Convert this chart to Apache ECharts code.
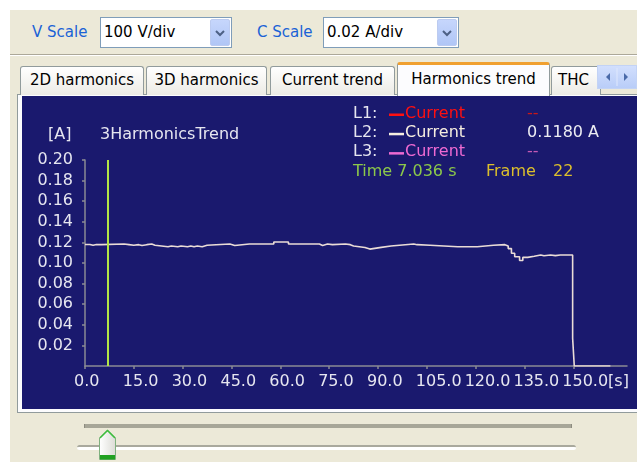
<!DOCTYPE html>
<html lang="en">
<head>
<meta charset="UTF-8">
<title>Harmonics trend</title>
<script src="https://cdn.jsdelivr.net/npm/echarts@6/dist/echarts.min.js"></script>
<style>
  body { margin: 0; width: 637px; height: 462px; background: #fff; overflow: hidden; position: relative; font-family: "DejaVu Sans", sans-serif; }
  .abs { position: absolute; }
  #panel { left: 10px; top: 10px; right: 0; bottom: 0; background: #ece9d8; }
  #sep { left: 10px; right: 0; top: 54px; height: 1px; background: #aca899; border-bottom: 1px solid #fff; }
  .lbl { color: #1a62d6; font-size: 15px; line-height: 18px; }
  .combo { height: 31px; border: 1px solid #7f9db9; background: #fff; box-sizing: border-box; font-size: 15px; line-height: 29px; padding-left: 3px; color: #000; }
  .combo .btn { position: absolute; right: 1px; top: 1px; bottom: 1px; width: 20px; border-radius: 2px; background: linear-gradient(#c6d6fc, #b0c6f6); border: 1px solid #bccbf0; box-sizing: border-box; }
  .tab { top: 66px; height: 29px; box-sizing: border-box; border: 1px solid #919b9c; border-bottom: none; border-radius: 3px 3px 0 0; background: linear-gradient(#ffffff, #ecebe5); font-size: 15px; line-height: 27px; text-align: center; color: #000; white-space: nowrap; overflow: hidden; }
  .tab.on { top: 62px; height: 34px; background: #fcfcfe; border-top: 3px solid #f0a030; line-height: 28px; z-index: 2; }
  #arrows { left: 597px; top: 65px; width: 40px; height: 24px; background: linear-gradient(#d2dffd, #b9cdf8); border: 1px solid #c3d3f5; box-sizing: border-box; }
  #frame { left: 17px; top: 94px; width: 640px; height: 319px; box-sizing: border-box; border: 1px solid #919b9c; background: #fcfcfe; }
  #main { left: 22px; top: 96px; width: 615px; height: 313px; }
  #range { left: 84px; top: 424px; width: 486px; height: 4px; background: #a7a698; border-left: 1px solid #8d8c80; border-right: 1px solid #8d8c80; }
  #track { left: 77px; top: 445px; width: 499px; height: 5px; box-sizing: border-box; background: #fff; border-top: 2px solid #a9a99d; border-radius: 3px; }
</style>
</head>
<body>
  <div id="panel" class="abs"></div>
  <div class="abs lbl" style="left:32px; top:23px;">V Scale</div>
  <div class="abs combo" style="left:100px; top:17px; width:132px;">100 V/div
    <div class="btn"><svg width="18" height="27" style="position:absolute;left:0;top:0"><polyline points="5,11 9,15 13,11" fill="none" stroke="#4d6185" stroke-width="2"/></svg></div>
  </div>
  <div class="abs lbl" style="left:257px; top:23px;">C Scale</div>
  <div class="abs combo" style="left:323px; top:17px; width:136px;">0.02 A/div
    <div class="btn"><svg width="18" height="27" style="position:absolute;left:0;top:0"><polyline points="5,11 9,15 13,11" fill="none" stroke="#4d6185" stroke-width="2"/></svg></div>
  </div>
  <div id="sep" class="abs"></div>

  <div id="frame" class="abs"></div>
  <div class="abs tab" style="left:20px; width:124px;">2D harmonics</div>
  <div class="abs tab" style="left:146px; width:121px;">3D harmonics</div>
  <div class="abs tab" style="left:270px; width:125px;">Current trend</div>
  <div class="abs tab on" style="left:397px; width:153px;">Harmonics trend</div>
  <div class="abs tab" style="left:551px; width:50px; text-align:left; padding-left:6px;">THC</div>
  <div id="arrows" class="abs">
    <svg width="38" height="22" style="position:absolute;left:0;top:0">
      <polygon points="8,11 12,7 12,15" fill="#4a6aa8"/>
      <polygon points="30,11 26,7 26,15" fill="#4a6aa8"/>
      <line x1="19" y1="2" x2="19" y2="20" stroke="#dfe8fd"/>
    </svg>
  </div>

  <div id="main" class="abs"></div>

  <div id="range" class="abs"></div>
  <div id="track" class="abs"></div>
  <svg class="abs" style="left:98px; top:429px;" width="19" height="32">
    <defs>
      <linearGradient id="thumbFill" x1="0" y1="0" x2="1" y2="0">
        <stop offset="0" stop-color="#ffffff"/>
        <stop offset="1" stop-color="#dcdcd6"/>
      </linearGradient>
    </defs>
    <path d="M1.5,9 L9.5,1 L17.5,9 L17.5,30.5 L1.5,30.5 Z" fill="url(#thumbFill)" stroke="#7fb07f" stroke-width="1"/>
    <polyline points="2,9 9.5,1.5 17,9" fill="none" stroke="#3cbf3c" stroke-width="1.5"/>
    <rect x="2" y="26" width="15" height="4.5" fill="#21a121"/>
  </svg>

<script>
  // L2 current trend (step values held until the next time)
  var times = [0, 1.5, 2.5, 3.5, 5, 12, 13.5, 15, 16.5, 17.5, 19, 20.5, 21.5, 25.5, 26.5,
    28.5, 29.5, 31.5, 32.5, 33.5, 34.5, 36, 37.5, 44.5, 46, 50.5, 51, 58, 62.5, 72,
    73, 74.5, 76, 80, 81.5, 82.5, 86, 87.5, 91, 94, 101, 102, 106, 114.5, 115,
    117.5, 118, 120.5, 125.5, 129, 130, 131, 132, 133.5, 134.5, 136, 138, 140, 141, 143,
    144.5, 146, 146.5, 149.8, 150.3, 161.4];
  var currentL2 = [0.118, 0.1172, 0.118, 0.1178, 0.1184, 0.1178, 0.1172, 0.1178, 0.117, 0.1178,
    0.1184, 0.1172, 0.1158, 0.1165, 0.1158, 0.1165, 0.1158, 0.1165, 0.1158, 0.1165,
    0.1158, 0.1172, 0.1184, 0.117, 0.1184, 0.1172, 0.1184, 0.1204, 0.1184, 0.117,
    0.1184, 0.1178, 0.1184, 0.1178, 0.1165, 0.115, 0.1135, 0.1152, 0.1165, 0.1184,
    0.1178, 0.1172, 0.1158, 0.1165, 0.1158, 0.1165, 0.1158, 0.1172, 0.1178, 0.1165,
    0.114, 0.1095, 0.106, 0.1025, 0.1055, 0.1065, 0.1078, 0.107, 0.1078, 0.1072,
    0.1078, 0.107, 0.1078, 0.027, 0, 0];

  var xTicks = [0, 15, 30, 45, 60, 75, 90, 105, 120, 135, 150];
  var yTicks = [0.02, 0.04, 0.06, 0.08, 0.10, 0.12, 0.14, 0.16, 0.18, 0.20];

  var cursorTime = 7.036;
  var frameNo = 22;
  var phases = ['L1:', 'L2:', 'L3:'];
  var phaseColors = ['#ff1010', '#f6eedf', '#ee6ad2'];
  var readingColors = ['#c81818', '#ececf2', '#c45ab4'];
  var phaseReadings = ['--', '0.1180 A', '--'];

  var textColor = '#e6e6f0';
  var font = '"DejaVu Sans", sans-serif';

  var myChart = echarts.init(document.getElementById('main'));

  var texts = [
    { type: 'text', left: 26, top: 31, style: { text: '[A]', fill: textColor, font: '16px ' + font } },
    { type: 'text', left: 78, top: 31, style: { text: '3HarmonicsTrend', fill: textColor, font: '16px ' + font } }
  ];
  for (var i = 0; i < phases.length; i++) {
    var yc = 18.5 + 19.3 * i;
    texts.push({ type: 'text', left: 331, top: yc - 9, style: { text: phases[i], fill: textColor, font: '16px ' + font } });
    texts.push({ type: 'rect', shape: { x: 367, y: yc - 1, width: 15, height: 2.5 }, style: { fill: phaseColors[i] } });
    texts.push({ type: 'text', left: 383, top: yc - 9, style: { text: 'Current', fill: phaseColors[i], font: '16px ' + font } });
    texts.push({ type: 'text', left: 505, top: yc - 9, style: { text: phaseReadings[i], fill: readingColors[i], font: '16px ' + font } });
  }
  texts.push({ type: 'text', left: 331, top: 68, style: { text: 'Time ' + cursorTime.toFixed(3) + ' s', fill: '#8cc84a', font: '16px ' + font } });
  texts.push({ type: 'text', left: 464, top: 68, style: { text: 'Frame', fill: '#dcbf2c', font: '16px ' + font } });
  texts.push({ type: 'text', left: 531, top: 68, style: { text: String(frameNo), fill: '#dcbf2c', font: '16px ' + font } });

  var axisColor = '#8a8a94';

  var option = {
    backgroundColor: '#1a196e',
    animation: false,
    textStyle: { fontFamily: font },
    grid: [
      { left: 63, top: 64, right: 10, bottom: 43, containLabel: false, outerBoundsMode: 'none' },
      // label row: the instrument prints each time label starting a little left of its tick
      { left: 52, top: 64, right: 21, bottom: 43, containLabel: false, outerBoundsMode: 'none' }
    ],
    xAxis: [{
      type: 'value',
      gridIndex: 0,
      min: 0,
      max: 166.5,
      axisLine: { show: true, lineStyle: { color: axisColor, width: 1.5 } },
      axisTick: { show: true, length: 3, customValues: xTicks, lineStyle: { color: axisColor, width: 1.5 } },
      axisLabel: { show: false },
      splitLine: { show: false }
    }, {
      type: 'value',
      gridIndex: 1,
      position: 'bottom',
      min: 0,
      max: 166.5,
      axisLine: { show: false },
      axisTick: { show: false },
      splitLine: { show: false },
      axisLabel: {
        customValues: xTicks,
        align: 'left',
        margin: 8,
        color: textColor,
        fontSize: 16,
        fontFamily: font,
        formatter: function (v) {
          return v === 150 ? v.toFixed(1) + '[s]' : v.toFixed(1);
        }
      }
    }],
    yAxis: [{
      type: 'value',
      gridIndex: 0,
      min: 0,
      max: 0.2,
      axisLine: { show: true, lineStyle: { color: axisColor, width: 1.5 } },
      axisTick: { show: true, length: 3, customValues: yTicks, lineStyle: { color: axisColor, width: 1.5 } },
      axisLabel: {
        customValues: yTicks,
        margin: 12,
        color: textColor,
        fontSize: 16,
        fontFamily: font,
        formatter: function (v) { return v.toFixed(2); }
      },
      splitLine: { show: false }
    }, {
      type: 'value',
      gridIndex: 1,
      min: 0,
      max: 0.2,
      show: false
    }],
    graphic: texts,
    series: [{
      name: 'L2 Current',
      type: 'line',
      xAxisIndex: 0,
      yAxisIndex: 0,
      step: 'end',
      symbol: 'none',
      data: times.map(function (t, k) { return [t, currentL2[k]]; }),
      lineStyle: { color: '#eadcd6', width: 1.6 },
      markLine: {
        silent: true,
        symbol: 'none',
        label: { show: false },
        lineStyle: { color: '#b2e646', width: 2, type: 'solid' },
        data: [{ xAxis: cursorTime }]
      }
    }]
  };

  myChart.setOption(option);
</script>
</body>
</html>
